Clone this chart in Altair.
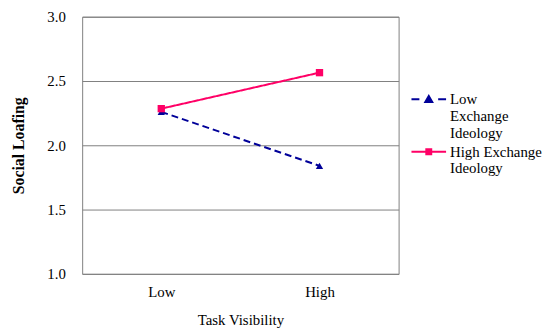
import altair as alt
import pandas as pd
import json

visibility = ["Low", "High"]
series = ["Low Exchange Ideology", "High Exchange Ideology"]
low_exchange = [2.26, 1.84]
high_exchange = [2.285, 2.565]
legend_lines = [["Low", "Exchange", "Ideology"], ["High Exchange", "Ideology"]]
colors = ["#000099", "#FF0066"]
marker_shapes = ["triangle-up", "square"]
dashes = [[7, 4], [1, 0]]
# legend swatches: line + marker, in units of the symbol radius (5 px)
legend_paths = [
    "M-3.5,0H-1.9M1.9,0H3.5M-0.7,0.55L0,-0.65L0.7,0.55Z",
    "M-3.5,0H3.5M-0.5,-0.5H0.5V0.5H-0.5Z",
]

rows = []
for s, vals in zip(series, [low_exchange, high_exchange]):
    for v, val in zip(visibility, vals):
        rows.append({"vis": v, "series": s, "value": val})
df = pd.DataFrame(rows)

font = "Liberation Serif"

label_expr = " : ".join(
    f"datum.label == {json.dumps(s)} ? {json.dumps(l)}" for s, l in zip(series, legend_lines)
) + " : datum.label"

x_enc = alt.X(
    "vis:N", sort=visibility, scale=alt.Scale(type="point", padding=0.5),
    axis=alt.Axis(title="Task Visibility", labelAngle=0, domain=False, ticks=False, grid=False,
                  labelPadding=11, titlePadding=13, titleFontWeight="normal"),
)
y_enc = alt.Y(
    "value:Q", scale=alt.Scale(domain=[1, 3], nice=False, zero=False),
    axis=alt.Axis(title="Social Loafing", values=[1, 1.5, 2, 2.5, 3], format=".1f",
                  domain=False, ticks=False, grid=True, labelPadding=17, titlePadding=21,
                  titleFontWeight="bold", titleFontSize=16),
)

base = alt.Chart(df).encode(x=x_enc, y=y_enc)

color_scale = alt.Scale(domain=series, range=colors)

lines = base.mark_line(strokeWidth=2).encode(
    color=alt.Color("series:N", scale=color_scale, legend=None),
    strokeDash=alt.StrokeDash("series:N", scale=alt.Scale(domain=series, range=dashes), legend=None),
)
points = base.mark_point(filled=True, size=55, opacity=1).encode(
    color=alt.Color("series:N", scale=color_scale, legend=None),
    shape=alt.Shape("series:N", scale=alt.Scale(domain=series, range=marker_shapes), legend=None),
)

leg = alt.Legend(title=None, orient="none", legendX=343, legendY=76, labelExpr=label_expr,
                 symbolSize=100, symbolStrokeWidth=2, labelFont=font, labelFontSize=15,
                 labelColor="black", labelOffset=14, rowPadding=3, labelBaseline="middle")

legend_layer = base.transform_filter("false").mark_point(filled=True, opacity=1, strokeWidth=2).encode(
    fill=alt.Fill("series:N", scale=alt.Scale(domain=series, range=colors), legend=leg),
    stroke=alt.Stroke("series:N", scale=alt.Scale(domain=series, range=colors), legend=leg),
    shape=alt.Shape("series:N", scale=alt.Scale(domain=series, range=legend_paths), legend=leg),
)

chart = alt.layer(lines, points, legend_layer).resolve_scale(
    shape="independent", fill="independent", stroke="independent"
).properties(
    width=320, height=260,
    autosize=alt.AutoSizeParams(type="none"),
    padding={"left": 75, "top": 7, "right": 145, "bottom": 58},
).configure(background="white").configure_view(
    stroke="#808080", strokeWidth=1
).configure_axis(
    labelFont=font, titleFont=font, labelFontSize=15, titleFontSize=15,
    labelColor="black", titleColor="black", gridColor="#808080", gridWidth=1,
)

chart.save("out.html", embed_options={"renderer": "svg", "actions": False})
